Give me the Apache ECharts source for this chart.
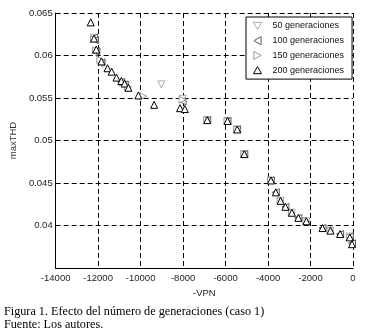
<!DOCTYPE html>
<html><head><meta charset="utf-8">
<script src="https://cdn.jsdelivr.net/npm/echarts@6/dist/echarts.min.js"></script>
<style>html,body{margin:0;padding:0;background:#fff}#c{width:369px;height:336px}</style>
</head><body><div id="c"></div>
<script>
const seriesNames = ['50 generaciones', '100 generaciones', '150 generaciones', '200 generaciones'];
const xTicks = [-14000, -12000, -10000, -8000, -6000, -4000, -2000, 0];
const yTicks = [0.04, 0.045, 0.05, 0.055, 0.06, 0.065];

const vpn50 = [-12200, -12050, -11800, -10700, -9027, -8027, -6864, -5909, -5455, -5118, -3864, -3409, -2877, -2195, -1059, -150];
const thd50 = [0.0621, 0.0604, 0.0590, 0.0565, 0.0566, 0.0549, 0.0524, 0.0523, 0.0513, 0.0484, 0.0453, 0.0429, 0.0415, 0.0405, 0.0394, 0.0387];

const vpn100 = [-12195, -12150, -12090, -11845, -10909, -10755, -8027, -6864, -5909, -5455, -5118, -3864, -3636, -3182, -2575, -1436, -605, -150, -45];
const thd100 = [0.0621, 0.0618, 0.0605, 0.0592, 0.0569, 0.0566, 0.0546, 0.0524, 0.0523, 0.0513, 0.0484, 0.0453, 0.0439, 0.0422, 0.0409, 0.0397, 0.0390, 0.0387, 0.0379];

const vpn150 = [-12200, -12100, -11900, -10850, -10600, -9877, -8027, -6864, -5909, -5455, -5118, -3864, -3409, -2877, -2195, -1059, -150];
const thd150 = [0.0619, 0.0606, 0.0595, 0.0568, 0.0563, 0.0552, 0.0548, 0.0524, 0.0523, 0.0513, 0.0484, 0.0453, 0.0429, 0.0415, 0.0405, 0.0394, 0.0386];

const vpn200 = [-12350, -12195, -12090, -11845, -11559, -11364, -11136, -10909, -10755, -10573, -10105, -9364, -8145, -7918, -6864, -5909, -5455, -5118, -3864, -3636, -3409, -3182, -2877, -2575, -2195, -1436, -1059, -605, -150, -45];
const thd200 = [0.0639, 0.0620, 0.0607, 0.0593, 0.0585, 0.0581, 0.0574, 0.0570, 0.0567, 0.0562, 0.0553, 0.0542, 0.0538, 0.0537, 0.0524, 0.0523, 0.0513, 0.0484, 0.0453, 0.0439, 0.0429, 0.0422, 0.0415, 0.0409, 0.0405, 0.0397, 0.0394, 0.0390, 0.0386, 0.0378];

const captionLines = ['Figura 1. Efecto del número de generaciones (caso 1)', 'Fuente: Los autores.'];

const pairs = (xs, ys) => xs.map((x, i) => [x, ys[i]]);
const allData = [pairs(vpn50, thd50), pairs(vpn100, thd100), pairs(vpn150, thd150), pairs(vpn200, thd200)];
const colors = ['#aaaaaa', '#5a5a5a', '#999999', '#000000'];
const rotations = [180, 90, -90, 0];
const legendIcons = [
  'path://M0,0 L10,0 L5,9 Z',
  'path://M9,0 L9,10 L0,5 Z',
  'path://M0,0 L0,10 L9,5 Z',
  'path://M5,0 L10,9 L0,9 Z'
];

const chart = echarts.init(document.getElementById('c'), null, {renderer: 'canvas'});
const font = '"Liberation Sans", Arial, sans-serif';
const dash = {color: '#000', width: 1, type: [5, 3]};
const legendText = {fontFamily: font, fontSize: 9, color: '#111', lineHeight: 10, padding: [0, 0, 0, 6]};
chart.setOption({
  animation: false,
  backgroundColor: '#fff',
  textStyle: {fontFamily: font},
  grid: {left: 45, right: 16, top: 13, bottom: 68, containLabel: false},
  xAxis: {
    type: 'value', min: -14000, max: 0, interval: 2000,
    name: '-VPN', nameLocation: 'middle', nameGap: 14,
    nameTextStyle: {fontFamily: font, fontSize: 9.5, color: '#222'},
    axisLine: {show: true, onZero: false, lineStyle: {color: '#000', width: 1}},
    axisTick: {show: false},
    axisLabel: {fontFamily: font, fontSize: 9.5, color: '#222', margin: 5,
      formatter: v => xTicks.includes(v) ? String(v) : ''},
    splitLine: {show: true, lineStyle: dash}
  },
  yAxis: {
    type: 'value', min: 0.035, max: 0.065, interval: 0.005,
    name: 'maxTHD', nameLocation: 'middle', nameGap: 33,
    nameTextStyle: {fontFamily: font, fontSize: 9.5, color: '#333'},
    axisLine: {show: true, onZero: false, lineStyle: {color: '#000', width: 1}},
    axisTick: {show: false},
    axisLabel: {fontFamily: font, fontSize: 9.5, color: '#222', margin: 3,
      formatter: v => {
        const r = Math.round(v * 1000) / 1000;
        return yTicks.some(t => Math.abs(t - r) < 1e-9) ? String(r) : '';
      }},
    splitLine: {show: true, lineStyle: dash}
  },
  legend: {
    orient: 'vertical', left: 246, top: 17,
    padding: [4, 8, 4, 7], itemGap: 4.7, itemWidth: 8, itemHeight: 8,
    borderColor: '#000', borderWidth: 1, backgroundColor: '#fff',
    textStyle: legendText,
    data: seriesNames.map((n, i) => ({
      name: n, icon: legendIcons[i],
      itemStyle: {color: '#fff', borderColor: colors[i], borderWidth: 1},
      textStyle: legendText
    }))
  },
  series: seriesNames.map((n, i) => ({
    name: n, type: 'scatter', data: allData[i],
    symbol: 'triangle', symbolSize: 7, symbolRotate: rotations[i],
    itemStyle: {color: '#fff', opacity: 1, borderColor: colors[i], borderWidth: 1}
  })),
  graphic: captionLines.map((t, i) => ({
    type: 'text', left: 4, top: 306 + i * 13,
    style: {text: t, font: '12.2px "Liberation Serif", "Times New Roman", serif', fill: '#000'}
  }))
});
</script></body></html>
